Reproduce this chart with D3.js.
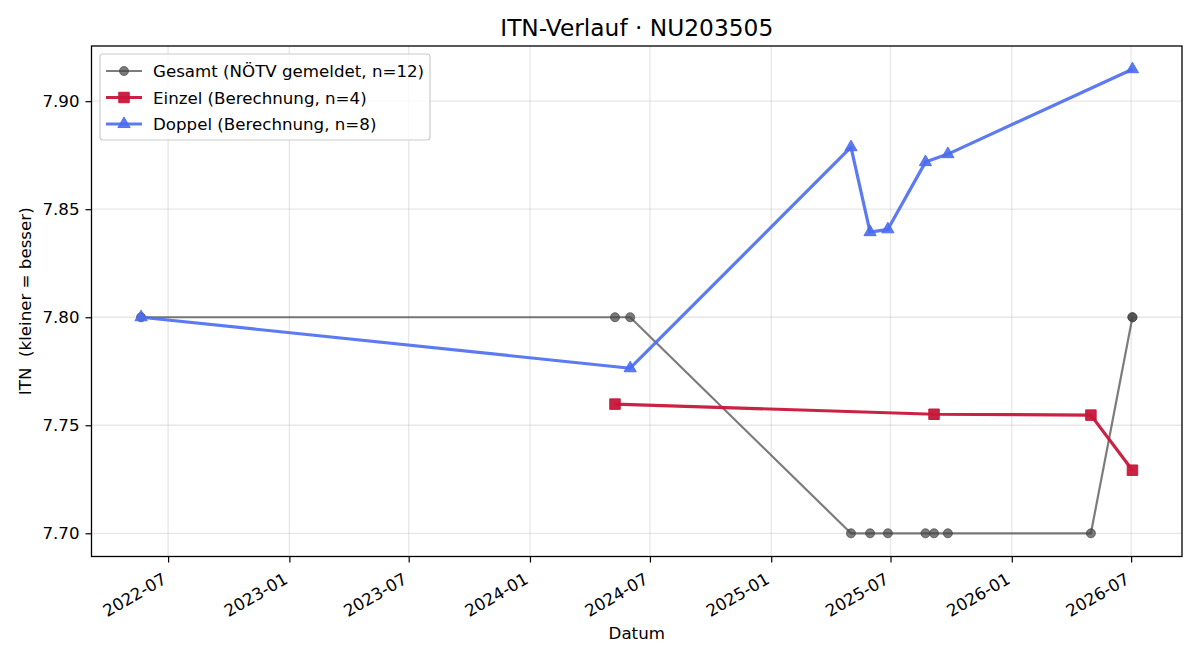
<!DOCTYPE html>
<html><head><meta charset="utf-8">
<script src="https://cdn.jsdelivr.net/npm/d3@7"></script>
<style>body{margin:0;background:#fff}svg{font-family:"DejaVu Sans",sans-serif}text{white-space:pre}</style>
</head><body><svg id="c" width="1200" height="660"></svg>
<script>
const title = "ITN-Verlauf · NU203505";
const xLabel = "Datum";
const yLabel = "ITN  (kleiner = besser)";
const gesamtDates = ["2022-05-21","2024-05-09","2024-06-01","2025-05-02","2025-05-31","2025-06-27","2025-08-23","2025-09-05","2025-09-26","2026-05-01","2026-07-03","2026-07-03"];
const gesamtValues = [7.80,7.80,7.80,7.70,7.70,7.70,7.70,7.70,7.70,7.70,7.80,7.80];
const einzelDates = ["2024-05-09","2025-09-05","2026-05-01","2026-07-03"];
const einzelValues = [7.7598,7.7551,7.7547,7.7292];
const doppelDates = ["2022-05-21","2024-06-01","2025-05-02","2025-05-31","2025-06-27","2025-08-23","2025-09-26","2026-07-03"];
const doppelValues = [7.80,7.7764,7.8787,7.8394,7.8407,7.8718,7.8755,7.9148];
const xTicks = ["2022-07","2023-01","2023-07","2024-01","2024-07","2025-01","2025-07","2026-01","2026-07"];
const yTicks = [7.70,7.75,7.80,7.85,7.90];
const legendLabels = ["Gesamt (NÖTV gemeldet, n=12)","Einzel (Berechnung, n=4)","Doppel (Berechnung, n=8)"];

const FS = 16.67;
const parse = d3.utcParse("%Y-%m-%d");
const parseM = d3.utcParse("%Y-%m");
const svg = d3.select("#c");
const L=91.5, R=1182, T=46, B=556.5;

const allDates = gesamtDates.concat(einzelDates, doppelDates).map(parse);
const allVals = gesamtValues.concat(einzelValues, doppelValues);
const [dmin,dmax] = d3.extent(allDates);
const span = dmax - dmin;
const x = d3.scaleUtc().domain([new Date(+dmin - span*0.05), new Date(+dmax + span*0.05)]).range([L,R]);
const [vmin,vmax] = d3.extent(allVals);
const vs = vmax - vmin;
const y = d3.scaleLinear().domain([vmin - vs*0.05, vmax + vs*0.05]).range([B,T]);

// grid
const g = svg.append("g");
xTicks.forEach(t=>{const px=x(parseM(t)); g.append("line").attr("x1",px).attr("x2",px).attr("y1",T).attr("y2",B).attr("stroke","#b0b0b0").attr("stroke-opacity",0.3).attr("stroke-width",1.3);});
yTicks.forEach(t=>{const py=y(t); g.append("line").attr("x1",L).attr("x2",R).attr("y1",py).attr("y2",py).attr("stroke","#b0b0b0").attr("stroke-opacity",0.3).attr("stroke-width",1.3);});

// axes
const xAxis = d3.axisBottom(x).tickValues(xTicks.map(t=>parseM(t))).tickFormat(d3.utcFormat("%Y-%m")).tickSize(6).tickPadding(4);
const xg = svg.append("g").attr("transform",`translate(0,${B})`).call(xAxis);
xg.select(".domain").remove();
xg.selectAll("line").attr("stroke","#000").attr("stroke-width",1.2);
xg.selectAll("text").attr("font-size",FS).attr("fill","#000").attr("font-family","DejaVu Sans")
  .attr("text-anchor","end").attr("dy",0).attr("y",0)
  .attr("transform","translate(-1,26) rotate(-30)");
const yAxis = d3.axisLeft(y).tickValues(yTicks).tickFormat(d3.format(".2f")).tickSize(6).tickPadding(6);
const yg = svg.append("g").attr("transform",`translate(${L},0)`).call(yAxis);
yg.select(".domain").remove();
yg.selectAll("line").attr("stroke","#000").attr("stroke-width",1.2);
yg.selectAll("text").attr("font-size",FS).attr("fill","#000").attr("font-family","DejaVu Sans");

svg.append("rect").attr("x",L).attr("y",T).attr("width",R-L).attr("height",B-T).attr("fill","none").attr("stroke","#000").attr("stroke-width",1.3);

// series
const line = d3.line().x(d=>x(d[0])).y(d=>y(d[1]));
function series(dates, vals, color, alpha, lw, marker, msize){
  const data = dates.map((d,i)=>[parse(d), vals[i]]);
  svg.append("path").datum(data).attr("d",line).attr("fill","none").attr("stroke",color).attr("stroke-opacity",alpha).attr("stroke-width",lw).attr("stroke-linejoin","round");
  const sym = d3.symbol().type(marker).size(msize);
  svg.append("g").selectAll("path").data(data).join("path")
    .attr("d",sym).attr("transform",d=>`translate(${x(d[0])},${y(d[1])})`)
    .attr("fill",color).attr("fill-opacity",alpha).attr("stroke",color).attr("stroke-opacity",alpha).attr("stroke-width",1);
}
const cols = ["#444444","#C8163A","#4A6CF0"];
const alphas = [0.7,0.95,0.9];
const symTypes=[d3.symbolCircle,d3.symbolSquare,d3.symbolTriangle], symSizes=[64,110,65], lws=[2.2,3.2,3.2];
series(gesamtDates,gesamtValues,cols[0],alphas[0],lws[0],symTypes[0],symSizes[0]);
series(einzelDates,einzelValues,cols[1],alphas[1],lws[1],symTypes[1],symSizes[1]);
series(doppelDates,doppelValues,cols[2],alphas[2],lws[2],symTypes[2],symSizes[2]);

// legend
const lg = svg.append("g");
lg.append("rect").attr("x",100).attr("y",54).attr("width",330).attr("height",86).attr("rx",3).attr("fill","#fff").attr("fill-opacity",0.8).attr("stroke","#cccccc").attr("stroke-width",1.2);
legendLabels.forEach((lab,i)=>{
  const ly = 71 + i*26.5;
  lg.append("line").attr("x1",106).attr("x2",142).attr("y1",ly).attr("y2",ly).attr("stroke",cols[i]).attr("stroke-opacity",alphas[i]).attr("stroke-width",lws[i]);
  lg.append("path").attr("d",d3.symbol().type(symTypes[i]).size(symSizes[i])).attr("transform",`translate(124,${ly})`).attr("fill",cols[i]).attr("fill-opacity",alphas[i]).attr("stroke",cols[i]).attr("stroke-opacity",alphas[i]);
  lg.append("text").attr("x",153).attr("y",ly+6).attr("font-size",FS).attr("fill","#000").text(lab);
});

// titles
svg.append("text").attr("x",(L+R)/2).attr("y",36).attr("text-anchor","middle").attr("font-size",23.3).attr("fill","#000").text(title);
svg.append("text").attr("x",(L+R)/2).attr("y",639).attr("text-anchor","middle").attr("font-size",FS).attr("fill","#000").text(xLabel);
svg.append("text").attr("transform",`translate(31,${(T+B)/2}) rotate(-90)`).attr("text-anchor","middle").attr("font-size",FS).attr("fill","#000").attr("xml:space","preserve").text(yLabel);
</script></body></html>
